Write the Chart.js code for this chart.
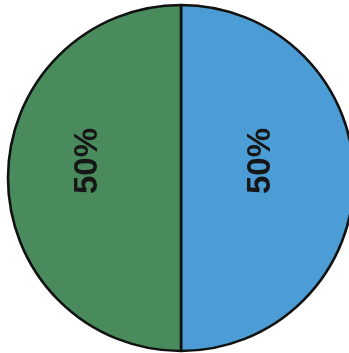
<!DOCTYPE html>
<html>
<head>
<meta charset="utf-8">
<script src="https://cdn.jsdelivr.net/npm/chart.js@4/dist/chart.umd.min.js"></script>
<style>
  html,body{margin:0;padding:0;background:#fff;overflow:hidden}
  #wrap{position:relative;width:349px;height:353px}
</style>
</head>
<body>
<div id="wrap"><canvas id="main-chart"></canvas></div>
<script>
// Slices in drawing order (clockwise from 12 o'clock)
var sliceNames=['Right','Left'];
var sliceValues=[50,50];
var sliceLabels=['50%','50%'];
var sliceColors=['#4c9dd5','#4a8b5d'];

/* Rotated percentage text inside each slice */
var labelPlugin={
  id:'sliceLabels',
  afterDatasetsDraw:function(chart){
    var ctx=chart.ctx;
    var meta=chart.getDatasetMeta(0);
    var radial=[0.46,0.54];
    meta.data.forEach(function(arc,i){
      var mid=(arc.startAngle+arc.endAngle)/2;
      var r=arc.outerRadius*radial[i];
      var x=arc.x+Math.cos(mid)*r;
      var y=arc.y+Math.sin(mid)*r-17;
      ctx.save();
      ctx.translate(x,y);
      ctx.rotate(-Math.PI/2);
      ctx.fillStyle='#161616';
      ctx.font='bold 33px "Liberation Sans", Arial, sans-serif';
      ctx.textAlign='center';
      ctx.textBaseline='middle';
      ctx.fillText(sliceLabels[i],0,0);
      ctx.restore();
    });
  }
};

var ctx=document.getElementById('main-chart').getContext('2d');
var mainChart=new Chart(ctx,{
  type:'pie',
  data:{
    labels:sliceNames,
    datasets:[{data:sliceValues,backgroundColor:sliceColors,borderColor:'#121212',borderWidth:2.6}]
  },
  options:{
    responsive:true,
    maintainAspectRatio:false,
    animation:false,
    radius:173,
    layout:{padding:{left:13,right:0,top:3,bottom:0}},
    plugins:{legend:{display:false},tooltip:{enabled:false}}
  },
  plugins:[labelPlugin]
});
</script>
</body>
</html>
